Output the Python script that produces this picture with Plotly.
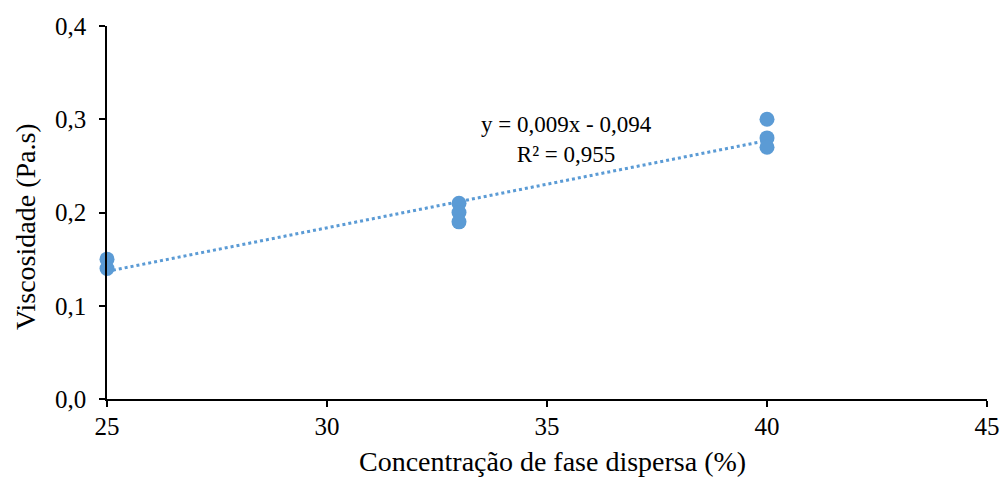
import numpy as np
import plotly.graph_objects as go

# Viscosity measurements per dispersed-phase concentration
concentracao = [25, 25, 33, 33, 33, 40, 40, 40]
viscosidade = [0.15, 0.14, 0.21, 0.20, 0.19, 0.30, 0.28, 0.27]

x_ticks = [25, 30, 35, 40, 45]
y_ticks = [0.0, 0.1, 0.2, 0.3, 0.4]
equacao = "y = 0,009x - 0,094"
r2_texto = "R² = 0,955"
x_titulo = "Concentração de fase dispersa (%)"
y_titulo = "Viscosidade (Pa.s)"

blue = "#5B9BD5"
font_family = "Liberation Serif"

# Linear trendline fitted to the measurements
slope, intercept = np.polyfit(concentracao, viscosidade, 1)
x_fit = np.array([min(concentracao), max(concentracao)])
y_fit = slope * x_fit + intercept

fig = go.Figure()
fig.add_trace(go.Scatter(
    x=x_fit, y=y_fit, mode="lines",
    line=dict(color=blue, width=3, dash="dot"),
    hoverinfo="skip", showlegend=False, cliponaxis=False,
))
fig.add_trace(go.Scatter(
    x=concentracao, y=viscosidade, mode="markers",
    marker=dict(color=blue, size=15, line=dict(width=0)),
    showlegend=False, cliponaxis=False,
))

# Trendline equation and coefficient of determination
fig.add_annotation(
    x=35.44, y=0.278, xref="x", yref="y",
    text=equacao + "<br>" + r2_texto,
    showarrow=False, align="center",
    font=dict(family=font_family, size=23, color="#000000"),
)

# Axis titles
fig.add_annotation(
    x=0.506, y=0, xref="paper", yref="paper", yshift=-62,
    xanchor="center", yanchor="middle",
    text=x_titulo, showarrow=False,
    font=dict(family=font_family, size=28, color="#000000"),
)
fig.add_annotation(
    x=0, y=0.461, xref="paper", yref="paper", xshift=-82,
    xanchor="center", yanchor="middle",
    text=y_titulo, textangle=-90, showarrow=False,
    font=dict(family=font_family, size=28, color="#000000"),
)

fig.update_layout(
    width=1003, height=477,
    margin=dict(l=107, r=16, t=26, b=78),
    paper_bgcolor="white", plot_bgcolor="white",
    separators=", ",
    font=dict(family=font_family, size=25, color="#000000"),
)
fig.update_xaxes(
    range=[25, 45], tickvals=x_ticks, ticktext=[str(v) for v in x_ticks],
    showgrid=False, zeroline=False, automargin=False,
    showline=True, linecolor="#000000", linewidth=1.5,
    ticks="outside", ticklen=6, tickwidth=1.5, tickcolor="#000000",
    tickfont=dict(family=font_family, size=25),
    ticklabelstandoff=-2,
)
fig.update_yaxes(
    range=[0, 0.4], tickvals=y_ticks, tickformat=".1f",
    showgrid=False, zeroline=False, automargin=False,
    showline=True, linecolor="#000000", linewidth=1.5,
    ticks="outside", ticklen=6, tickwidth=1.5, tickcolor="#000000",
    tickfont=dict(family=font_family, size=25),
    ticklabelstandoff=8,
)

fig.write_html("out.html")
